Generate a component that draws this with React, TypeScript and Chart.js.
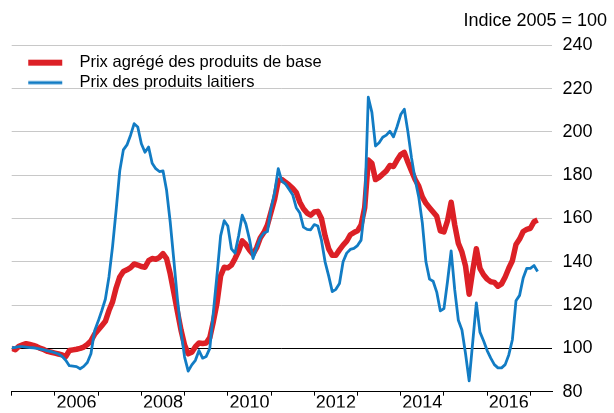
import { useEffect, useRef } from 'react';
import { Chart, registerables } from 'chart.js';

Chart.register(...registerables);

// Monthly data, January 2005 to March 2017 (index 2005 = 100)
const START_YEAR = 2005;

const commodityIndex: number[] = [
  // 2005
  100.0, 99.4, 101.0, 101.6, 102.2, 101.8, 101.4, 100.8, 100.0, 99.4, 98.6, 98.2,
  // 2006
  97.8, 97.4, 97.0, 96.2, 99.0, 99.3, 99.6, 100.0, 100.6, 101.8, 103.5, 106.5,
  // 2007
  108.5, 110.5, 112.5, 117.5, 121.5, 128.0, 133.0, 135.5, 136.3, 137.3, 139.0, 138.5,
  // 2008
  137.8, 137.5, 140.5, 141.5, 141.2, 142.0, 143.8, 141.5, 134.5, 126.0, 117.0, 108.5,
  // 2009
  101.5, 97.5, 98.2, 100.8, 102.5, 102.3, 102.5, 105.0, 112.5, 121.0, 133.5, 137.5,
  // 2010
  137.2, 138.5, 141.5, 145.0, 149.7, 148.0, 145.5, 143.5, 146.5, 151.0, 153.5, 157.0,
  // 2011
  163.0, 169.0, 177.5, 178.0, 176.8, 175.5, 174.0, 172.0, 167.5, 164.5, 162.5, 161.5,
  // 2012
  163.0, 163.3, 160.0, 152.0, 146.0, 143.0, 143.0, 145.5, 147.7, 149.5, 152.5, 153.5,
  // 2013
  154.3, 157.0, 165.0, 187.0, 185.5, 178.0, 179.0, 180.5, 182.0, 184.5, 184.0, 187.0,
  // 2014
  189.5, 190.5, 186.0, 182.0, 178.0, 175.0, 170.0, 167.0, 165.0, 163.0, 161.0, 154.3,
  // 2015
  153.8, 159.0, 167.5, 157.0, 148.5, 144.5, 138.0, 125.0, 136.0, 146.0, 137.0, 134.0,
  // 2016
  132.0, 130.8, 130.5, 128.7, 129.8, 133.0, 137.0, 140.5, 148.0, 150.5, 154.0, 155.0,
  // 2017
  155.5, 158.5, 159.3,
];

const dairyIndex: number[] = [
  // 2005
  100.3, 100.5, 100.8, 100.8, 100.6, 100.4, 100.3, 100.0, 99.7, 99.3, 98.9, 98.5,
  // 2006
  98.0, 97.4, 96.3, 94.5, 92.0, 91.8, 91.6, 90.6, 91.7, 93.5, 97.5, 108.0,
  // 2007
  112.5, 117.4, 122.7, 133.0, 147.0, 164.0, 182.0, 191.7, 194.0, 198.5, 203.8, 202.3,
  // 2008
  194.5, 190.6, 193.0, 185.5, 183.0, 181.7, 182.0, 173.0, 158.5, 141.0, 123.0, 108.0,
  // 2009
  96.0, 89.5, 92.4, 94.5, 99.0, 95.5, 96.3, 100.0, 117.0, 134.0, 152.0, 159.0,
  // 2010
  156.5, 146.0, 144.0, 152.0, 161.5, 157.5, 150.5, 141.5, 146.5, 151.0, 153.3, 154.0,
  // 2011
  164.5, 172.0, 183.0, 177.3, 176.0, 173.5, 171.0, 165.0, 162.5, 156.0, 155.0, 154.8,
  // 2012
  157.2, 156.5, 150.0, 140.0, 133.5, 126.2, 127.3, 130.0, 140.0, 144.0, 145.7, 146.2,
  // 2013
  147.5, 150.0, 165.0, 216.0, 209.0, 193.5, 195.0, 197.5, 198.5, 200.3, 197.7, 202.5,
  // 2014
  208.0, 210.5, 200.0, 188.0, 178.0, 170.0, 158.0, 140.0, 132.0, 131.0, 126.0, 117.3,
  // 2015
  118.4, 131.0, 145.0, 127.0, 113.0, 108.5, 97.5, 85.0, 103.0, 121.0, 107.5, 103.5,
  // 2016
  99.0, 95.5, 92.5, 91.0, 91.0, 92.5, 97.0, 104.0, 122.0, 124.5, 132.5, 137.0,
  // 2017
  137.0, 138.3, 135.5,
];

const seriesLabels: string[] = ['Prix agrégé des produits de base', 'Prix des produits laitiers'];
const yearTicks: number[] = [2005, 2006, 2007, 2008, 2009, 2010, 2011, 2012, 2013, 2014, 2015, 2016, 2017];
const labeledYears: number[] = [2006, 2008, 2010, 2012, 2014, 2016];
const yTicks: number[] = [80, 100, 120, 140, 160, 180, 200, 220, 240];
const titleText = 'Indice 2005 = 100';

const RED = 'rgb(220,32,38)';
const BLUE = 'rgb(18,124,196)';
const FONT = "'Liberation Sans', Arial, Helvetica, sans-serif";

const toPoints = (vals: number[]) => vals.map((v, i) => ({ x: START_YEAR + i / 12, y: v }));

function lineSwatch(color: string, width: number): HTMLCanvasElement {
  const c = document.createElement('canvas');
  c.width = 56;
  c.height = 12;
  const g = c.getContext('2d')!;
  g.strokeStyle = color;
  g.lineWidth = width;
  g.beginPath();
  g.moveTo(13, 6);
  g.lineTo(47, 6);
  g.stroke();
  return c;
}

export default function App() {
  const ref = useRef<HTMLCanvasElement>(null);

  useEffect(() => {
    if (!ref.current) return;
    Chart.defaults.font.family = FONT;
    Chart.defaults.color = '#000';
    const swatches = [lineSwatch(RED, 6), lineSwatch(BLUE, 3)];
    const colors = [RED, BLUE];

    const chart = new Chart(ref.current, {
      type: 'line',
      data: {
        datasets: [
          {
            label: seriesLabels[0],
            data: toPoints(commodityIndex),
            borderColor: RED,
            backgroundColor: RED,
            borderWidth: 5.5,
            pointRadius: 0,
            tension: 0,
            borderJoinStyle: 'round',
            order: 1,
          },
          {
            label: seriesLabels[1],
            data: toPoints(dairyIndex),
            borderColor: BLUE,
            backgroundColor: BLUE,
            borderWidth: 2.8,
            pointRadius: 0,
            tension: 0,
            borderJoinStyle: 'round',
            order: 0,
          },
        ],
      },
      options: {
        responsive: false,
        animation: false,
        events: [],
        layout: { padding: { left: 11.7, right: 7, top: 0, bottom: 0 } },
        scales: {
          x: {
            type: 'linear',
            min: 2005,
            max: 2017.5,
            afterBuildTicks: (s: any) => {
              s.ticks = yearTicks.map((v) => ({ value: v }));
            },
            afterFit: (s: any) => {
              s.height = 15.7;
            },
            ticks: {
              autoSkip: false,
              maxRotation: 0,
              minRotation: 0,
              labelOffset: 21.6,
              padding: -3.5,
              color: '#000',
              font: { size: 18 },
              callback: (v: any) => (labeledYears.includes(Number(v)) ? String(v) : ''),
            },
            grid: { drawOnChartArea: false, drawTicks: true, tickLength: 4, color: '#000', lineWidth: 1 },
            border: { display: true, color: '#000', width: 1 },
          },
          y: {
            position: 'right',
            min: 80,
            max: 240,
            afterBuildTicks: (s: any) => {
              s.ticks = yTicks.map((v) => ({ value: v }));
            },
            afterFit: (s: any) => {
              s.width = 55;
            },
            ticks: { padding: 10.5, color: '#000', font: { size: 18 } },
            grid: {
              drawTicks: false,
              lineWidth: 1,
              color: (ctx: any) =>
                ctx.tick && (ctx.tick.value === 100 || ctx.tick.value === 80) ? 'rgba(0,0,0,0)' : 'rgb(200,200,200)',
            },
            border: { display: false },
          },
          yRef: {
            position: 'right',
            min: 80,
            max: 240,
            z: 1,
            afterBuildTicks: (s: any) => {
              s.ticks = [{ value: 100 }];
            },
            ticks: { display: false },
            grid: { drawTicks: false, color: '#000', lineWidth: 1 },
            border: { display: false },
          },
        },
        plugins: {
          tooltip: { enabled: false },
          title: {
            display: true,
            text: titleText,
            align: 'end',
            color: '#000',
            font: { size: 18, weight: 'normal' },
            padding: { top: 10.5, bottom: 13.2 },
          },
          legend: {
            display: true,
            position: 'chartArea',
            align: 'start',
            title: { display: true, text: '', font: { size: 10, lineHeight: 1 }, padding: { top: 40.9, bottom: 0 } },
            labels: {
              usePointStyle: true,
              pointStyleWidth: 56,
              padding: 3.5,
              color: '#000',
              font: { size: 16.5 },
              generateLabels: () =>
                seriesLabels.map((text, i) => ({
                  text,
                  datasetIndex: i,
                  fillStyle: colors[i],
                  strokeStyle: colors[i],
                  lineWidth: 0,
                  pointStyle: swatches[i],
                  hidden: false,
                  fontColor: '#000',
                })),
            },
          },
        },
      } as any,
    });
    return () => chart.destroy();
  }, []);

  return (
    <div style={{ position: 'fixed', left: 0, top: 0, width: 614, height: 413, background: '#fff' }}>
      <canvas ref={ref} width={614} height={413} style={{ display: 'block' }} />
    </div>
  );
}
